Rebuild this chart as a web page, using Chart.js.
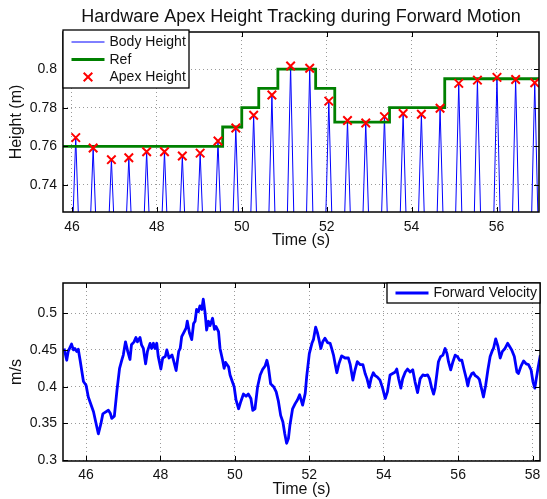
<!DOCTYPE html>
<html>
<head>
<meta charset="utf-8">
<script src="https://cdn.jsdelivr.net/npm/chart.js@4"></script>
<style>
  body { margin: 0; background: #fff; }
  #heightChart { position: absolute; left: 0; top: 0; }
  #velChart { position: absolute; left: 0; top: 250px; }
</style>
</head>
<body>
<canvas id="heightChart" width="547" height="250"></canvas>
<canvas id="velChart" width="547" height="249"></canvas>
<script>
var fontFamily = 'Liberation Sans, Arial, Helvetica, sans-serif';
Chart.defaults.font.family = fontFamily;
Chart.defaults.color = '#111';

// ---- top panel: apex height tracking ----
var apexTime = [46.09, 46.50, 46.93, 47.34, 47.76, 48.18, 48.60, 49.02, 49.44, 49.86, 50.28, 50.71, 51.15,
  51.60, 52.05, 52.49, 52.92, 53.36, 53.80, 54.23, 54.67, 55.11, 55.55, 56.01, 56.45, 56.90];
var apexHeight = [0.7645, 0.7591, 0.7531, 0.7541, 0.7572, 0.7572, 0.7550, 0.7565, 0.7628, 0.7695, 0.7761, 0.7866, 0.8016,
  0.8004, 0.7834, 0.7734, 0.7721, 0.7754, 0.7770, 0.7766, 0.7797, 0.7926, 0.7943, 0.7957, 0.7946, 0.7929];

// body height: flight phase peaks, stance phase runs below the visible range
var bodyTime = [45.99, 46.09, 46.19, 46.40, 46.50, 46.60, 46.83, 46.93, 47.03, 47.24, 47.34, 47.44,
  47.66, 47.76, 47.86, 48.08, 48.18, 48.28, 48.50, 48.60, 48.70, 48.92, 49.02, 49.12,
  49.34, 49.44, 49.54, 49.76, 49.86, 49.96, 50.18, 50.28, 50.38, 50.61, 50.71, 50.81,
  51.05, 51.15, 51.25, 51.50, 51.60, 51.70, 51.95, 52.05, 52.15, 52.39, 52.49, 52.59,
  52.82, 52.92, 53.02, 53.26, 53.36, 53.46, 53.70, 53.80, 53.90, 54.13, 54.23, 54.33,
  54.57, 54.67, 54.77, 55.01, 55.11, 55.21, 55.45, 55.55, 55.65, 55.91, 56.01, 56.11,
  56.35, 56.45, 56.55, 56.80, 56.90, 57.00];
var bodyHeight = [0.70, 0.7645, 0.70, 0.70, 0.7591, 0.70, 0.70, 0.7531, 0.70, 0.70, 0.7541, 0.70,
  0.70, 0.7572, 0.70, 0.70, 0.7572, 0.70, 0.70, 0.7550, 0.70, 0.70, 0.7565, 0.70,
  0.70, 0.7628, 0.70, 0.70, 0.7695, 0.70, 0.70, 0.7761, 0.70, 0.70, 0.7866, 0.70,
  0.70, 0.8016, 0.70, 0.70, 0.8004, 0.70, 0.70, 0.7834, 0.70, 0.70, 0.7734, 0.70,
  0.70, 0.7721, 0.70, 0.70, 0.7754, 0.70, 0.70, 0.7770, 0.70, 0.70, 0.7766, 0.70,
  0.70, 0.7797, 0.70, 0.70, 0.7926, 0.70, 0.70, 0.7943, 0.70, 0.70, 0.7957, 0.70,
  0.70, 0.7946, 0.70, 0.70, 0.7929, 0.70];

// reference: value holds from each time until the next one
var refTime = [45.70, 49.55, 50.00, 50.40, 50.85, 51.74, 52.19, 53.48, 54.78, 57.10];
var refHeight = [0.76, 0.77, 0.78, 0.79, 0.80, 0.79, 0.7725, 0.78, 0.795, 0.795];

var topXTicks = [46, 48, 50, 52, 54, 56];
var topYTicks = [0.74, 0.76, 0.78, 0.8];

// ---- bottom panel: forward velocity ----
var velTime = [45.41, 45.48, 45.52, 45.61, 45.66, 45.70, 45.75, 45.79, 45.84, 45.88, 45.93, 46.00,
  46.06, 46.15, 46.20, 46.26, 46.33, 46.40, 46.45, 46.51, 46.60, 46.65, 46.69, 46.76,
  46.83, 46.90, 46.96, 47.00, 47.06, 47.12, 47.18, 47.22, 47.29, 47.34, 47.38, 47.45,
  47.49, 47.54, 47.60, 47.65, 47.72, 47.76, 47.81, 47.85, 47.90, 47.94, 48.01, 48.06,
  48.13, 48.17, 48.23, 48.31, 48.35, 48.42, 48.49, 48.53,
  48.57, 48.64, 48.69, 48.72, 48.78, 48.84, 48.89, 48.93, 48.97, 49.02, 49.06, 49.11,
  49.15, 49.20, 49.24, 49.29, 49.33, 49.40, 49.45, 49.49, 49.56, 49.60, 49.67, 49.71,
  49.75, 49.83, 49.87, 49.93, 49.98, 50.03, 50.10, 50.16, 50.23, 50.30, 50.36, 50.43,
  50.48, 50.54, 50.61, 50.68, 50.75, 50.81, 50.86, 50.90, 50.96, 51.04, 51.11, 51.17,
  51.23, 51.29, 51.34, 51.39, 51.44, 51.48, 51.55, 51.62, 51.68, 51.74,
  51.82, 51.89, 51.93, 52.00, 52.07, 52.11, 52.17, 52.22, 52.26, 52.31, 52.36, 52.42,
  52.49, 52.56, 52.60, 52.65, 52.69, 52.74, 52.80, 52.87, 52.96, 53.05, 53.10, 53.17,
  53.23, 53.29, 53.37, 53.44, 53.50, 53.55, 53.61, 53.66, 53.72, 53.77, 53.83, 53.90,
  53.97, 54.04, 54.10, 54.17, 54.24, 54.31, 54.35, 54.40, 54.46, 54.51, 54.58, 54.64,
  54.71, 54.78, 54.84, 54.91,
  54.98, 55.05, 55.11, 55.18, 55.23, 55.29, 55.34, 55.38, 55.43, 55.47, 55.53, 55.59,
  55.65, 55.70, 55.74, 55.80, 55.86, 55.92, 55.98, 56.04, 56.10, 56.16, 56.22, 56.26,
  56.30, 56.37, 56.41, 56.46, 56.52, 56.57, 56.64, 56.68, 56.74, 56.80, 56.86, 56.91,
  56.95, 57.01, 57.07, 57.13, 57.19, 57.26, 57.33, 57.38, 57.44, 57.51, 57.58, 57.62,
  57.69, 57.76, 57.83, 57.89, 57.96, 58.01, 58.06, 58.10, 58.15, 58.21];
var velValue = [0.452, 0.436, 0.448, 0.458, 0.450, 0.452, 0.448, 0.451, 0.436, 0.423, 0.407, 0.402,
  0.386, 0.373, 0.366, 0.352, 0.336, 0.350, 0.363, 0.365, 0.368, 0.364, 0.357, 0.360,
  0.395, 0.425, 0.436, 0.443, 0.461, 0.448, 0.437, 0.457, 0.461, 0.467, 0.461, 0.467,
  0.457, 0.452, 0.431, 0.448, 0.459, 0.452, 0.459, 0.452, 0.459, 0.441, 0.424, 0.439,
  0.441, 0.450, 0.439, 0.443, 0.436, 0.422, 0.448, 0.452,
  0.468, 0.475, 0.480, 0.489, 0.473, 0.464, 0.486, 0.489, 0.505, 0.502, 0.510, 0.505,
  0.519, 0.500, 0.477, 0.489, 0.483, 0.493, 0.478, 0.482, 0.475, 0.452, 0.436, 0.425,
  0.433, 0.427, 0.416, 0.407, 0.400, 0.382, 0.370, 0.380, 0.390, 0.387, 0.390, 0.384,
  0.368, 0.370, 0.400, 0.416, 0.424, 0.428, 0.436, 0.427, 0.404, 0.400, 0.393, 0.380,
  0.361, 0.352, 0.336, 0.323, 0.330, 0.348, 0.370, 0.377, 0.382, 0.389,
  0.375, 0.391, 0.414, 0.445, 0.459, 0.464, 0.481, 0.473, 0.464, 0.452, 0.461, 0.466,
  0.460, 0.459, 0.452, 0.443, 0.432, 0.419, 0.432, 0.442, 0.439, 0.439, 0.430, 0.409,
  0.423, 0.434, 0.430, 0.430, 0.418, 0.411, 0.399, 0.411, 0.419, 0.415, 0.413, 0.409,
  0.398, 0.384, 0.393, 0.416, 0.418, 0.420, 0.424, 0.411, 0.398, 0.411, 0.420, 0.424,
  0.420, 0.423, 0.407, 0.392,
  0.411, 0.416, 0.415, 0.416, 0.411, 0.398, 0.390, 0.398, 0.418, 0.434, 0.441, 0.443,
  0.452, 0.445, 0.434, 0.423, 0.434, 0.443, 0.441, 0.436, 0.436, 0.423, 0.411, 0.401,
  0.411, 0.418, 0.419, 0.415, 0.413, 0.410, 0.395, 0.386, 0.402, 0.423, 0.441, 0.448,
  0.452, 0.465, 0.455, 0.439, 0.448, 0.452, 0.459, 0.455, 0.450, 0.441, 0.420, 0.418,
  0.428, 0.435, 0.431, 0.430, 0.423, 0.407, 0.398, 0.411, 0.426, 0.443];

var botXTicks = [46, 48, 50, 52, 54, 56, 58];
var botYTicks = [0.3, 0.35, 0.4, 0.45, 0.5];

function pts(xs, ys) {
  return xs.map(function (x, i) { return { x: x, y: ys[i] }; });
}

// matlab style box, inward ticks and boxed legend
var boxPlugin = {
  id: 'box',
  afterDraw: function (chart, args, opts) {
    var ctx = chart.ctx, a = chart.chartArea;
    var sx = chart.scales.x, sy = chart.scales.y;
    ctx.save();
    ctx.strokeStyle = '#000';
    ctx.lineWidth = 1;
    ctx.beginPath();
    sx.ticks.forEach(function (t) {
      var p = Math.round(sx.getPixelForValue(t.value)) + 0.5;
      ctx.moveTo(p, a.bottom); ctx.lineTo(p, a.bottom - 5);
      ctx.moveTo(p, a.top); ctx.lineTo(p, a.top + 5);
    });
    sy.ticks.forEach(function (t) {
      var p = Math.round(sy.getPixelForValue(t.value)) + 0.5;
      ctx.moveTo(a.left, p); ctx.lineTo(a.left + 5, p);
      ctx.moveTo(a.right, p); ctx.lineTo(a.right - 5, p);
    });
    ctx.stroke();
    ctx.lineWidth = 1.5;
    ctx.strokeRect(a.left, a.top, a.right - a.left, a.bottom - a.top);

    var L = opts.legend;
    if (L) {
      ctx.fillStyle = '#fff';
      ctx.fillRect(L.x, L.y, L.w, L.h);
      ctx.lineWidth = 1.3;
      ctx.strokeStyle = '#000';
      ctx.strokeRect(L.x, L.y, L.w, L.h);
      ctx.font = '14px ' + fontFamily;
      ctx.textBaseline = 'middle';
      ctx.textAlign = 'left';
      chart.data.datasets.forEach(function (ds, i) {
        var y = L.y + L.first + i * L.step;
        var x0 = L.x + 8.5, x1 = x0 + 33;
        ctx.strokeStyle = ds.borderColor;
        if (ds.showLine === false) {
          var xm = (x0 + x1) / 2, r = 4.3;
          ctx.lineWidth = ds.pointBorderWidth;
          ctx.beginPath();
          ctx.moveTo(xm - r, y - r); ctx.lineTo(xm + r, y + r);
          ctx.moveTo(xm - r, y + r); ctx.lineTo(xm + r, y - r);
          ctx.stroke();
        } else {
          ctx.lineWidth = ds.borderWidth;
          ctx.beginPath();
          ctx.moveTo(x0, y); ctx.lineTo(x1, y);
          ctx.stroke();
        }
        ctx.fillStyle = '#111';
        ctx.fillText(ds.label, x1 + 5, y + 0.5);
      });
    }
    ctx.restore();
  }
};

function xAxis(min, max, tickList, pad) {
  return {
    type: 'linear', min: min, max: max,
    afterBuildTicks: function (s) { s.ticks = tickList.map(function (v) { return { value: v }; }); },
    afterFit: function (s) { s.height = 38; },
    grid: { color: '#9a9a9a', drawTicks: false },
    border: { display: false, dash: [1, 3] },
    ticks: { padding: pad, font: { size: 14 }, color: '#111', callback: function (v) { return String(v); } },
    title: { display: true, text: 'Time (s)', font: { size: 16 }, color: '#111', padding: { top: 0, bottom: 0 } }
  };
}

function yAxis(min, max, tickList, label) {
  return {
    min: min, max: max,
    afterBuildTicks: function (s) { s.ticks = tickList.map(function (v) { return { value: v }; }); },
    afterFit: function (s) { s.width = 63; },
    grid: { color: '#9a9a9a', drawTicks: false },
    border: { display: false, dash: [1, 3] },
    ticks: { padding: 6, font: { size: 14 }, color: '#111', callback: function (v) { return String(v); } },
    title: { display: true, text: label, font: { size: 16 }, color: '#111', padding: { top: 7, bottom: 0 } }
  };
}

new Chart(document.getElementById('heightChart'), {
  type: 'line',
  data: {
    datasets: [{
      label: 'Body Height',
      data: pts(bodyTime, bodyHeight),
      borderColor: '#0000ff',
      borderWidth: 1,
      pointRadius: 0,
      order: 3
    }, {
      label: 'Ref',
      data: pts(refTime, refHeight),
      borderColor: '#008000',
      borderWidth: 2.8,
      stepped: 'before',
      pointRadius: 0,
      order: 2
    }, {
      label: 'Apex Height',
      data: pts(apexTime, apexHeight),
      borderColor: '#ff0000',
      showLine: false,
      pointStyle: 'crossRot',
      pointRadius: 6,
      pointBorderWidth: 2,
      pointBorderColor: '#ff0000',
      order: 1
    }]
  },
  options: {
    responsive: false,
    animation: false,
    layout: { padding: { left: 0, right: 8, top: 0, bottom: 0 } },
    scales: {
      x: xAxis(45.79, 57, topXTicks, 7),
      y: yAxis(0.726, 0.8192, topYTicks, 'Height (m)')
    },
    plugins: {
      legend: { display: false },
      tooltip: { enabled: false },
      title: {
        display: true,
        fullSize: false,
        text: 'Hardware Apex Height Tracking during Forward Motion',
        font: { size: 18, weight: 'normal' },
        color: '#111',
        padding: { top: 6.5, bottom: 3.9 }
      },
      box: { legend: { x: 63, y: 30, w: 126, h: 58, first: 12, step: 17.5 } }
    }
  },
  plugins: [boxPlugin]
});

new Chart(document.getElementById('velChart'), {
  type: 'line',
  data: {
    datasets: [{
      label: 'Forward Velocity',
      data: pts(velTime, velValue),
      borderColor: '#0000ff',
      borderWidth: 2.8,
      pointRadius: 0,
      borderJoinStyle: 'round'
    }]
  },
  options: {
    responsive: false,
    animation: false,
    layout: { padding: { left: 0, right: 7, top: 33, bottom: 0 } },
    scales: {
      x: xAxis(45.38, 58.2, botXTicks, 6),
      y: yAxis(0.299, 0.541, botYTicks, 'm/s')
    },
    plugins: {
      legend: { display: false },
      tooltip: { enabled: false },
      box: { legend: { x: 387, y: 283 - 250, w: 153, h: 20, first: 10, step: 18 } }
    }
  },
  plugins: [boxPlugin]
});
</script>
</body>
</html>
